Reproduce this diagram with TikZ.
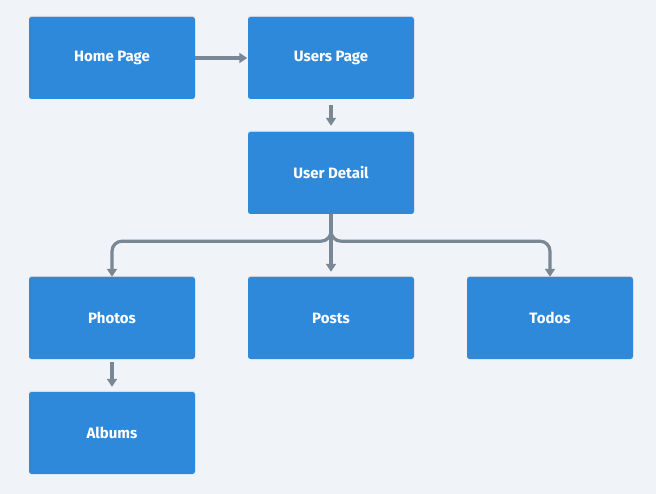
\documentclass[tikz,border=0pt]{standalone}
\usepackage{fontspec}
\setmainfont{Fira Sans}
\usetikzlibrary{arrows.meta,shadows}
\definecolor{pagebg}{HTML}{F0F3F7}
\definecolor{boxblue}{HTML}{2E89DB}
\definecolor{linkgray}{HTML}{7A8794}
\tikzset{
	pagebox/.style={fill=boxblue, rounded corners=2.5pt, minimum width=166pt, minimum height=82pt,
		text=white, font=\fontsize{15}{17}\selectfont\bfseries, inner sep=0pt,
		drop shadow={opacity=0.18, shadow xshift=0pt, shadow yshift=1.2pt}},
	link/.style={draw=linkgray, line width=3.2pt, -{Triangle[length=8pt,width=10pt]}}
}
\begin{document}
\begin{tikzpicture}[x=1pt, y=-1pt]
			%%%%% START %%%%%
			
			\fill[pagebg] (0, 0) rectangle (656, 494);
			\useasboundingbox (0, 0) rectangle (656, 494);
			
			\node[pagebox] (home) at (112, 58) {Home Page};
			\node[pagebox] (users) at (331, 58) {Users Page};
			\node[pagebox] (detail) at (331, 173) {User Detail};
			
			\node[pagebox] (photos) at (112, 318) {Photos};
			\node[pagebox] (posts) at (331, 318) {Posts};
			\node[pagebox] (todos) at (550, 318) {Todos};
			
			\node[pagebox] (albums) at (112, 433) {Albums};
			
			\draw[link, shorten >=0.5pt] (home) -- (users);
			\draw[link, shorten <=6pt, shorten >=6pt] (users) -- (detail);
			
			\draw[link, rounded corners=10pt] (detail.south) -- ++(0, 27) -| (photos.north);
			\draw[link, rounded corners=10pt] (detail.south) -- ++(0, 27) -| (todos.north);
			\draw[link, shorten >=5pt] (detail) -- (posts);
			
			\draw[link, shorten <=3pt, shorten >=5pt] (photos) -- (albums);
			
			%%%%% END %%%%%
\end{tikzpicture}
\end{document}
